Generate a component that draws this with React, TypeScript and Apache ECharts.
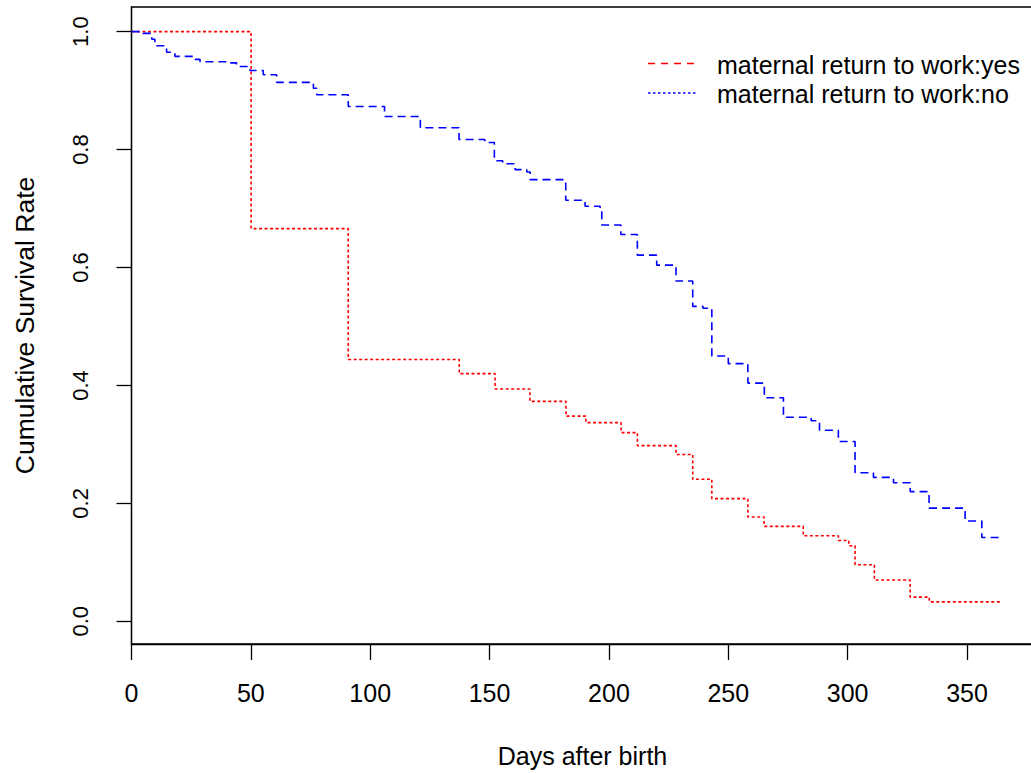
import React, { useEffect, useRef } from 'react';
import * as echarts from 'echarts';

const xTicks = [0, 50, 100, 150, 200, 250, 300, 350];
const yTicks = [0, 0.2, 0.4, 0.6, 0.8, 1.0];

const yesDays = [0, 50.1, 90.8, 137.3, 152.3, 166.9, 182, 190.3, 205.1, 211.9, 228.1, 235.1, 243.1, 258.2, 265, 281.4, 296.1, 300.5, 303.1, 311.2, 326.2, 334.2, 364.6];
const yesSurv = [1, 0.666, 0.444, 0.42, 0.394, 0.373, 0.348, 0.337, 0.32, 0.298, 0.283, 0.241, 0.208, 0.177, 0.161, 0.145, 0.137, 0.128, 0.096, 0.07, 0.041, 0.033, 0.033];

const noDays = [0, 4.9, 8.5, 9.8, 14.7, 18.2, 26.6, 28.7, 41.3, 44, 49.6, 55.2, 60.8, 76.2, 77.6, 90.8, 106, 121, 137.2, 148, 152, 155.5, 160.7, 165.6, 167, 181.9, 190, 196.3, 197, 205, 211.9, 220, 228.1, 235.1, 239.4, 243.1, 250, 258.2, 265.1, 273.1, 284.7, 288.2, 296.1, 303.1, 310.8, 319.2, 326.2, 334.1, 349.2, 356.2, 364.6];
const noSurv = [1, 0.997, 0.987, 0.976, 0.965, 0.958, 0.953, 0.949, 0.947, 0.941, 0.934, 0.927, 0.914, 0.904, 0.893, 0.873, 0.856, 0.837, 0.817, 0.812, 0.781, 0.776, 0.766, 0.762, 0.749, 0.714, 0.704, 0.699, 0.672, 0.656, 0.621, 0.604, 0.577, 0.534, 0.531, 0.45, 0.437, 0.404, 0.379, 0.346, 0.34, 0.324, 0.305, 0.252, 0.244, 0.235, 0.22, 0.192, 0.17, 0.142, 0.142];

const seriesNames = ['maternal return to work:yes', 'maternal return to work:no'];
const xTitle = 'Days after birth';
const yTitle = 'Cumulative Survival Rate';

const FONT = '"Liberation Sans", Arial, sans-serif';

export default function App() {
  const ref = useRef<HTMLDivElement>(null);
  useEffect(() => {
    if (!ref.current) return;
    const chart = echarts.init(ref.current, null, { renderer: 'svg' });
    const yes = yesDays.map((d, i) => [d, yesSurv[i]]);
    const no = noDays.map((d, i) => [d, noSurv[i]]);
    chart.setOption({
      animation: false,
      backgroundColor: '#ffffff',
      grid: {
        left: 131.5,
        top: 7,
        width: 910,
        height: 639,
        show: true,
        borderColor: '#000',
        borderWidth: 1.3,
        containLabel: false,
      },
      xAxis: {
        type: 'value',
        min: 0,
        max: 381.2,
        name: xTitle,
        nameLocation: 'middle',
        nameGap: 99,
        nameTextStyle: { fontSize: 25, fontFamily: FONT, color: '#000', padding: [0, 8, 0, 0] },
        axisLine: { show: true, onZero: false, lineStyle: { color: '#000', width: 1.3 } },
        axisTick: { show: true, length: 16, inside: false, customValues: xTicks, lineStyle: { color: '#000', width: 1.3 } },
        axisLabel: { customValues: xTicks, fontSize: 25, fontFamily: FONT, color: '#000', margin: 36 },
        splitLine: { show: false },
      },
      yAxis: {
        type: 'value',
        min: -0.0385,
        max: 1.0418,
        name: yTitle,
        nameLocation: 'middle',
        nameGap: 93,
        nameRotate: 90,
        nameTextStyle: { fontSize: 26.5, fontFamily: FONT, color: '#000' },
        axisLine: { show: true, onZero: false, lineStyle: { color: '#000', width: 1.3 } },
        axisTick: { show: true, length: 15, inside: false, customValues: yTicks, lineStyle: { color: '#000', width: 1.3 } },
        axisLabel: {
          customValues: yTicks,
          rotate: 90,
          fontSize: 22,
          fontFamily: FONT,
          color: '#000',
          margin: 40,
          formatter: (v: number) => v.toFixed(1),
        },
        splitLine: { show: false },
      },
      series: [
        {
          name: seriesNames[0],
          type: 'line',
          step: 'end',
          data: yes,
          showSymbol: false,
          symbol: 'none',
          lineStyle: { color: '#ff0000', width: 1.6, type: [3, 2.5] },
        },
        {
          name: seriesNames[1],
          type: 'line',
          step: 'end',
          data: no,
          showSymbol: false,
          symbol: 'none',
          lineStyle: { color: '#0000ff', width: 1.6, type: [8, 5] },
        },
      ],
      graphic: [
        {
          type: 'line',
          shape: { x1: 648, y1: 63.5, x2: 696, y2: 63.5 },
          style: { stroke: '#ff0000', lineWidth: 1.6, lineDash: [7, 6] },
        },
        {
          type: 'line',
          shape: { x1: 648, y1: 93, x2: 696, y2: 93 },
          style: { stroke: '#0000ff', lineWidth: 1.6, lineDash: [2.5, 2.5] },
        },
        {
          type: 'text',
          x: 717,
          y: 64.6,
          style: { text: seriesNames[0], fontSize: 25, fontFamily: FONT, fill: '#000', verticalAlign: 'middle', align: 'left' },
        },
        {
          type: 'text',
          x: 717,
          y: 94.3,
          style: { text: seriesNames[1], fontSize: 25, fontFamily: FONT, fill: '#000', verticalAlign: 'middle', align: 'left' },
        },
      ],
    });
    return () => chart.dispose();
  }, []);
  return (
    <div style={{ position: 'absolute', left: 0, top: 0, width: 1031, height: 773, overflow: 'hidden', background: '#fff' }}>
      <div ref={ref} style={{ position: 'absolute', left: 0, top: 0, width: 1060, height: 773 }} />
    </div>
  );
}
